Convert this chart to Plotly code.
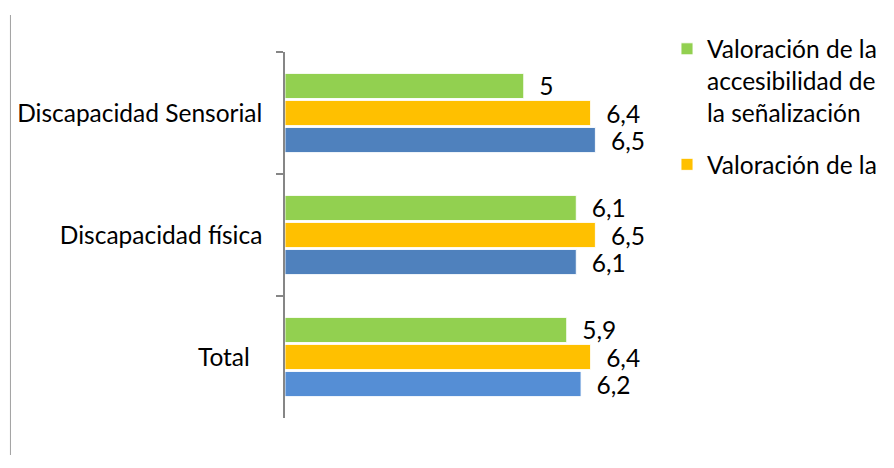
import plotly.graph_objects as go

categories = ["Discapacidad Sensorial", "Discapacidad física", "Total\u00a0\u00a0"]
green_vals = [5.0, 6.1, 5.9]
yellow_vals = [6.4, 6.5, 6.4]
blue_vals = [6.5, 6.1, 6.2]
green_name = "Valoración de la<br>accesibilidad de<br>la señalización"
yellow_name = "Valoración de la"
blue_name = "Valoración"
blue_colors = ["#4F81BD", "#4F81BD", "#558ED5"]

FONT = "Lato, Calibri, 'Open Sans', sans-serif"
FS = 24.5
W, H = 894, 468
L, R, T, B = 285, 225, 52, 50

fig = go.Figure()
common = dict(orientation="h", texttemplate="\u00a0\u00a0%{x}", textposition="outside",
              constraintext="none",
              textfont=dict(size=FS, color="#000000", family=FONT), cliponaxis=False)
fig.add_trace(go.Bar(y=categories, x=green_vals, name=green_name, legendgroup="g",
                     marker=dict(color="#92D050", line=dict(color="rgba(255,255,255,0.9)", width=1)), **common))
fig.add_trace(go.Bar(y=categories, x=yellow_vals, name=yellow_name, legendgroup="y",
                     marker=dict(color="#FFC000", line=dict(color="rgba(255,255,255,0.9)", width=1)), **common))
fig.add_trace(go.Bar(y=categories, x=blue_vals, name=blue_name, legendgroup="b", showlegend=False,
                     marker=dict(color=blue_colors, line=dict(color="rgba(255,255,255,0.9)", width=1)), **common))

fig.update_layout(
    width=W, height=H,
    margin=dict(l=L, r=R, t=T, b=B),
    paper_bgcolor="white", plot_bgcolor="white",
    separators=",.",
    barmode="group", bargap=0.335, bargroupgap=0.07,
    font=dict(family=FONT, size=FS, color="#000000"),
    xaxis=dict(range=[0, 8], visible=False, showgrid=False, zeroline=False),
    yaxis=dict(autorange="reversed", showgrid=False, zeroline=False,
               showline=True, linecolor="#868686", linewidth=1.5,
               ticks="outside", tickson="boundaries", ticklen=7, tickcolor="#868686", tickwidth=1.5,
               ticklabelstandoff=16, tickfont=dict(size=FS, family=FONT, color="#000000")),
    legend=dict(x=1.0, y=1.07, xanchor="left", yanchor="top", valign="top",
                font=dict(size=FS, family=FONT, color="#000000"),
                tracegroupgap=17, itemwidth=30, bgcolor="rgba(0,0,0,0)"),
    showlegend=True,
    shapes=[dict(type="line", xref="paper", yref="paper",
                 x0=(9 - L) / (W - L - R), x1=(9 - L) / (W - L - R),
                 y0=(H - B - 15) / (H - T - B), y1=(H - B - 455) / (H - T - B),
                 line=dict(color="#A0A0A0", width=1))],
)

fig.write_html("out.html")
